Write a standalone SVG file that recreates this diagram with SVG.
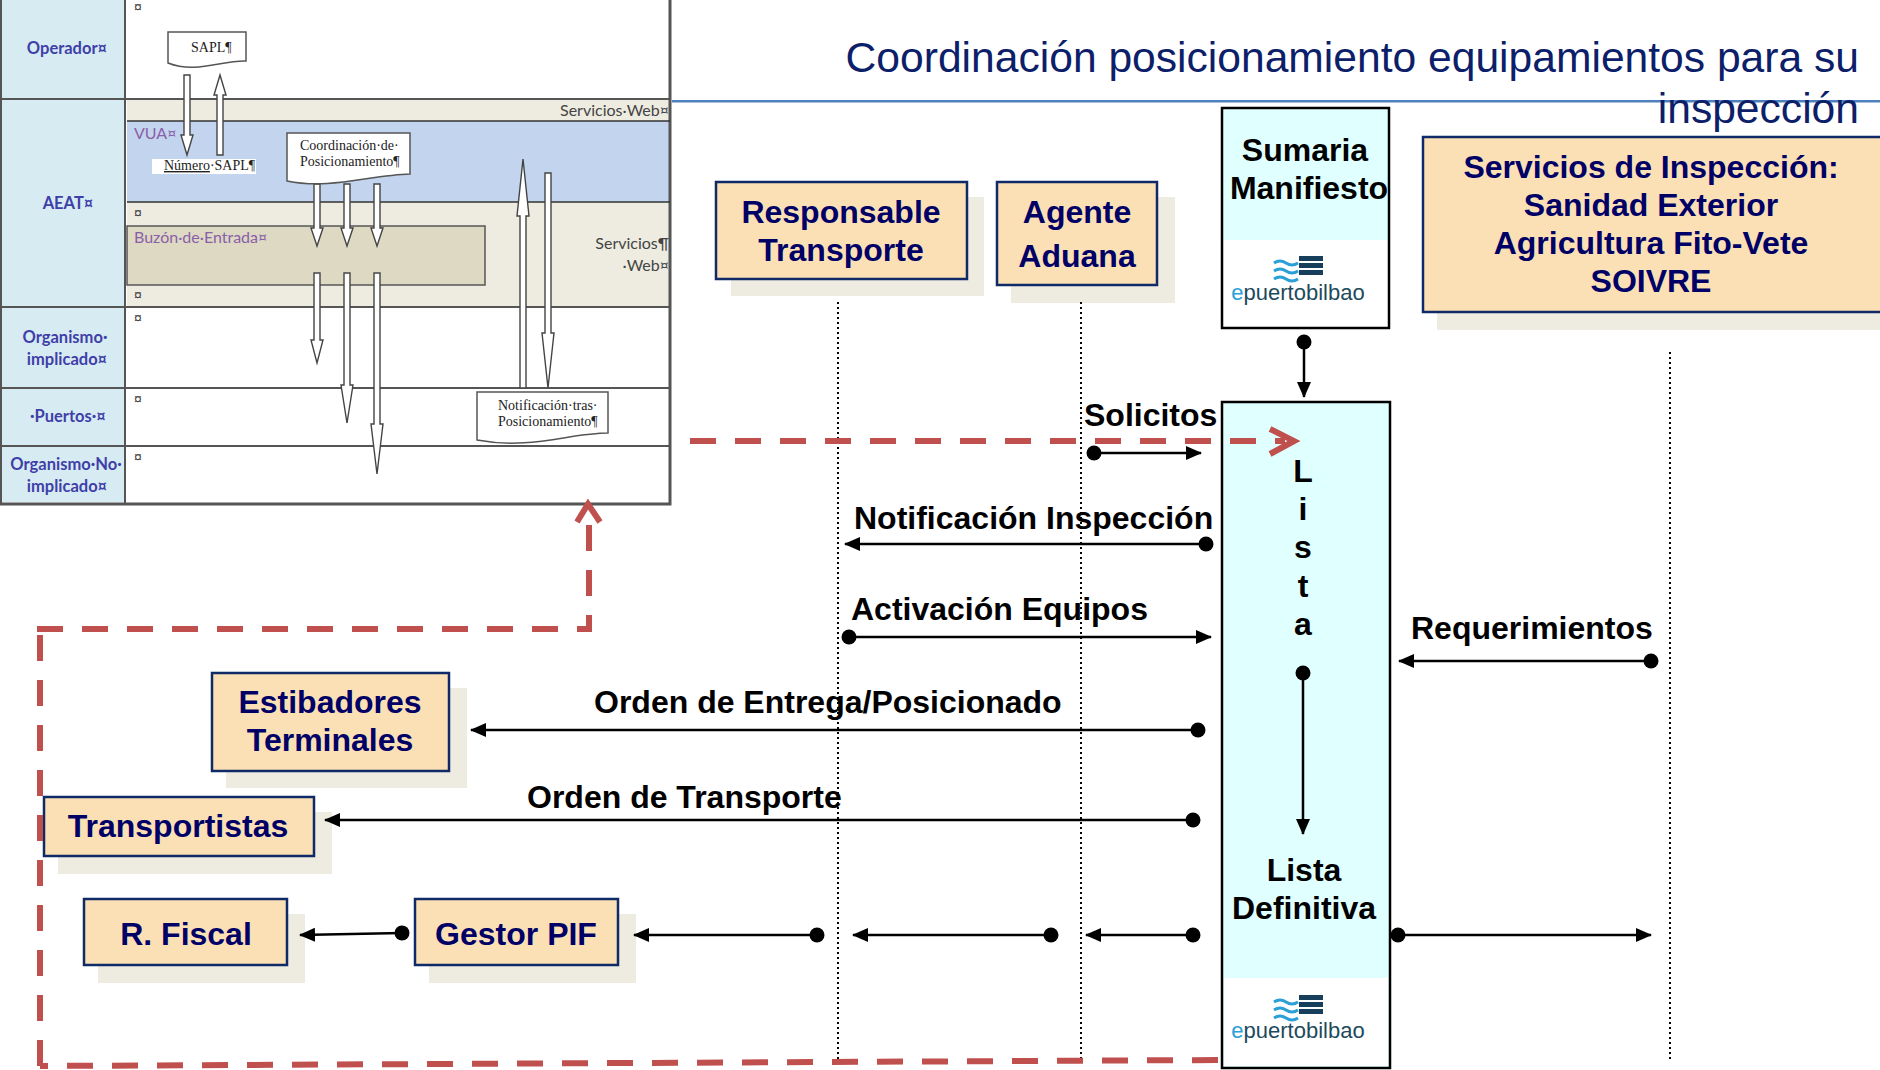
<svg xmlns="http://www.w3.org/2000/svg" width="1880" height="1070" viewBox="0 0 1880 1070">
<style>
text{font-family:"Liberation Sans",Arial,sans-serif}
.nodeBox{fill:#fbe0b5;stroke:#0f2a66;stroke-width:2.5}
.shadow{fill:#eeece1}
.nodeTxt{font-weight:700;font-size:32px;fill:#000066;text-anchor:middle}
.blk{font-weight:700;font-size:32px;fill:#000;text-anchor:middle}
.lbl{font-weight:700;font-size:32px;fill:#000}
.life{stroke:#000;stroke-width:2;stroke-dasharray:2 3;fill:none}
.con{stroke:#000;stroke-width:2.5;fill:none;marker-end:url(#ah);marker-start:url(#dot)}
.red{stroke:#c0504d;stroke-width:6;fill:none;stroke-dasharray:26 19}
.redh{stroke:#c0504d;stroke-width:6;fill:none}
.lane{font-weight:700;font-size:16.5px;fill:#3f3fa8;font-family:Lato,"Liberation Sans",sans-serif;text-anchor:middle}
.ser{font-family:"Liberation Serif",serif;font-size:14px;fill:#222}
.cel{font-size:14px;fill:#444;font-family:"Liberation Sans",sans-serif}
.sm{font-size:16px;fill:#444;font-family:Lato,"Liberation Sans",sans-serif}
.pur{font-size:16px;fill:#8a5fa8;font-family:Lato,"Liberation Sans",sans-serif}
.rl{stroke:#555;stroke-width:2;fill:none}
.da{fill:#fff;stroke:#444;stroke-width:1.4}
.doc{fill:#fff;stroke:#555;stroke-width:1.5}
.logoT{font-size:22px;fill:#1d4a5c;text-anchor:middle}
.wave{stroke:#2a9fd8;stroke-width:3;fill:none}
.bar{fill:#173f5c}
</style>
<defs>
<marker id="ah" markerUnits="userSpaceOnUse" markerWidth="16" markerHeight="14" refX="15" refY="7" orient="auto"><path d="M0 0L16 7L0 14z" fill="#000"/></marker>
<marker id="dot" markerUnits="userSpaceOnUse" markerWidth="16" markerHeight="16" refX="8" refY="8" orient="auto"><circle cx="8" cy="8" r="7.5" fill="#000"/></marker>
<g id="logo">
<path class="wave" d="M0 7q6-4 12 0t12 0M0 15q6-4 12 0t12 0M0 23q6-4 12 0t12 0"/>
<rect class="bar" x="25" y="0" width="24" height="5"/><rect class="bar" x="25" y="7" width="24" height="5"/><rect class="bar" x="25" y="14" width="24" height="5"/>
</g>
</defs>
<rect width="1880" height="1070" fill="#fff"/>

<g id="title">
<text x="1859" y="72" font-size="42.6" fill="#0c2069" text-anchor="end">Coordinación posicionamiento equipamientos para su</text>
<rect x="672" y="100" width="1208" height="2.5" fill="#4f81bd"/>
<text x="1859" y="123" font-size="42.6" fill="#0c2069" text-anchor="end">inspección</text>
</g>

<g id="swimlane-table">
<rect x="0" y="0" width="672" height="505" fill="#fff"/>
<rect x="1" y="0" width="123" height="502" fill="#d7ebf3"/>
<rect x="127" y="100" width="543" height="207" fill="#eeece1"/>
<rect x="127" y="121" width="543" height="81" fill="#c3d5ee"/>
<rect x="127" y="226" width="358" height="59" fill="#ddd9c3" stroke="#555" stroke-width="1.5"/>
<path class="rl" d="M1 0V503M125 0V503M1 99H670M1 307H670M1 388H670M1 446H670"/>
<path stroke="#555" stroke-width="3" fill="none" d="M670 0V504H0"/>
<path stroke="#333" stroke-width="1.5" fill="none" d="M127 121H670M127 202H670"/>
<text class="lane" x="67" y="54">Operador¤</text>
<text class="lane" x="68" y="209">AEAT¤</text>
<text class="lane" x="65" y="343">Organismo·</text><text class="lane" x="67" y="365">implicado¤</text>
<text class="lane" x="68" y="422">·Puertos·¤</text>
<text class="lane" x="66" y="470">Organismo·No·</text><text class="lane" x="67" y="492">implicado¤</text>
<text class="cel" x="134" y="12">¤</text><text class="cel" x="134" y="218">¤</text><text class="cel" x="134" y="300">¤</text><text class="cel" x="134" y="323">¤</text><text class="cel" x="134" y="404">¤</text><text class="cel" x="134" y="462">¤</text>
<text class="sm" x="669" y="116" text-anchor="end">Servicios·Web¤</text>
<text class="sm" x="669" y="249" text-anchor="end">Servicios¶</text><text class="sm" x="669" y="271" text-anchor="end">·Web¤</text>
<text class="pur" x="134" y="139" fill="#6f5fb8">VUA¤</text>
<text class="pur" x="134" y="243">Buzón·de·Entrada¤</text>

<path class="da" d="M184 75H190V135L193 135L187 155L181 135L184 135Z"/>
<path class="da" d="M217 155H223V95H226L220 75L214 95H217Z"/>
<path class="da" d="M314 184H320V228L323 228L317 246L311 228L314 228Z"/>
<path class="da" d="M344 184H350V228L353 228L347 246L341 228L344 228Z"/>
<path class="da" d="M374 184H380V228L383 228L377 246L371 228L374 228Z"/>
<path class="da" d="M314 273H320V340L323 340L317 363L311 340L314 340Z"/>
<path class="da" d="M344 273H350V385L353 385L347 423L341 385L344 385Z"/>
<path class="da" d="M374 273H380V424L383 424L377 474L371 424L374 424Z"/>
<path class="da" d="M520 388H526V216H529L523 159L517 216H520Z"/>
<path class="da" d="M545 173H551V333L554 333L548 388L542 333L545 333Z"/>

<path class="doc" d="M168 32H246V61C222 60 196 74 168 63Z"/>
<text class="ser" x="191" y="52">SAPL¶</text>
<rect x="152" y="159" width="104" height="15" fill="#fff"/>
<text class="ser" x="164" y="170"><tspan text-decoration="underline">Número</tspan>·SAPL¶</text>
<path class="doc" d="M287 133H410V174C370 175 330 190 287 181Z"/>
<text class="ser" x="300" y="150" font-size="13.5">Coordinación·de·</text>
<text class="ser" x="300" y="166" font-size="13.5">Posicionamiento¶</text>
<path class="doc" d="M477 392H608V433C570 433 530 450 477 440Z"/>
<text class="ser" x="498" y="410" font-size="13.5">Notificación·tras·</text>
<text class="ser" x="498" y="426" font-size="13.5">Posicionamiento¶</text>
</g>

<g id="responsable-transporte">
<rect class="shadow" x="731" y="197" width="253" height="99"/>
<rect class="nodeBox" x="716" y="182" width="251" height="97"/>
<text class="nodeTxt" x="841" y="223">Responsable</text><text class="nodeTxt" x="841" y="261">Transporte</text>
</g>
<g id="agente-aduana">
<rect class="shadow" x="1011" y="197" width="164" height="106"/>
<rect class="nodeBox" x="997" y="182" width="160" height="103"/>
<text class="nodeTxt" x="1077" y="223">Agente</text><text class="nodeTxt" x="1077" y="267">Aduana</text>
</g>
<g id="sumaria-manifiesto">
<rect x="1222" y="108" width="167" height="220" fill="#e0ffff"/>
<rect x="1223" y="240" width="165" height="87" fill="#fff"/>
<rect x="1222" y="108" width="167" height="220" fill="none" stroke="#000" stroke-width="2.5"/>
<text class="blk" x="1305" y="161">Sumaria</text><text class="blk" x="1309" y="199">Manifiesto</text>
<use href="#logo" x="1274" y="256"/>
<text class="logoT" x="1298" y="300"><tspan fill="#2a9fd8">e</tspan>puertobilbao</text>
</g>
<g id="servicios-inspeccion">
<rect class="shadow" x="1437" y="150" width="443" height="180"/>
<rect class="nodeBox" x="1423" y="137" width="460" height="175"/>
<text class="nodeTxt" x="1651" y="178">Servicios de Inspección:</text>
<text class="nodeTxt" x="1651" y="216">Sanidad Exterior</text>
<text class="nodeTxt" x="1651" y="254">Agricultura Fito-Vete</text>
<text class="nodeTxt" x="1651" y="292">SOIVRE</text>
</g>
<g id="lista">
<rect x="1222" y="402" width="168" height="666" fill="#e0ffff"/>
<rect x="1224" y="978" width="164" height="88" fill="#fff"/>
<rect x="1222" y="402" width="168" height="666" fill="none" stroke="#000" stroke-width="2.5"/>
<text class="blk" x="1303" y="482">L</text><text class="blk" x="1303" y="520">i</text><text class="blk" x="1303" y="558">s</text><text class="blk" x="1303" y="597">t</text><text class="blk" x="1303" y="635">a</text>
<text class="blk" x="1304" y="881">Lista</text><text class="blk" x="1304" y="919">Definitiva</text>
<use href="#logo" x="1274" y="995"/>
<text class="logoT" x="1298" y="1038"><tspan fill="#2a9fd8">e</tspan>puertobilbao</text>
</g>
<g id="estibadores-terminales">
<rect class="shadow" x="226" y="688" width="241" height="100"/>
<rect class="nodeBox" x="212" y="673" width="237" height="98"/>
<text class="nodeTxt" x="330" y="713">Estibadores</text><text class="nodeTxt" x="330" y="751">Terminales</text>
</g>
<g id="transportistas">
<rect class="shadow" x="58" y="812" width="274" height="62"/>
<rect class="nodeBox" x="44" y="797" width="270" height="59"/>
<text class="nodeTxt" x="178" y="837">Transportistas</text>
</g>
<g id="r-fiscal">
<rect class="shadow" x="98" y="914" width="207" height="69"/>
<rect class="nodeBox" x="84" y="899" width="203" height="66"/>
<text class="nodeTxt" x="186" y="945">R. Fiscal</text>
</g>
<g id="gestor-pif">
<rect class="shadow" x="429" y="914" width="207" height="69"/>
<rect class="nodeBox" x="415" y="899" width="203" height="66"/>
<text class="nodeTxt" x="516" y="945">Gestor PIF</text>
</g>

<g id="connectors">
<path class="life" d="M838 302V1060M1081 302V1060M1670 352V1060"/>
<path class="con" d="M1304 342V397"/>
<path class="con" d="M1094 453H1201"/>
<path class="con" d="M1206 544H845"/>
<path class="con" d="M849 637H1211"/>
<path class="con" d="M1651 661H1399"/>
<path class="con" d="M1198 730H471"/>
<path class="con" d="M1193 820H325"/>
<path class="con" d="M1303 673V834"/>
<path class="con" d="M1398 935H1651"/>
<path class="con" d="M1193 935H1086"/>
<path class="con" d="M1051 935H853"/>
<path class="con" d="M817 935H634"/>
<path class="con" d="M402 933L300 935"/>
<path class="red" d="M690 441H1285"/>
<path class="redh" d="M1270 429L1294 441L1270 454"/>
<path class="red" d="M1218 1060L40 1066"/>
<path class="red" d="M40 1066V629"/>
<path class="red" d="M37 629H589V510"/>
<path class="redh" d="M577 522L588 504L600 522"/>
</g>
<g id="labels">
<text class="lbl" x="1084" y="426">Solicitos</text>
<text class="lbl" x="854" y="529">Notificación Inspección</text>
<text class="lbl" x="851" y="620">Activación Equipos</text>
<text class="lbl" x="1411" y="639">Requerimientos</text>
<text class="lbl" x="594" y="713">Orden de Entrega/Posicionado</text>
<text class="lbl" x="527" y="808">Orden de Transporte</text>
</g>
</svg>
